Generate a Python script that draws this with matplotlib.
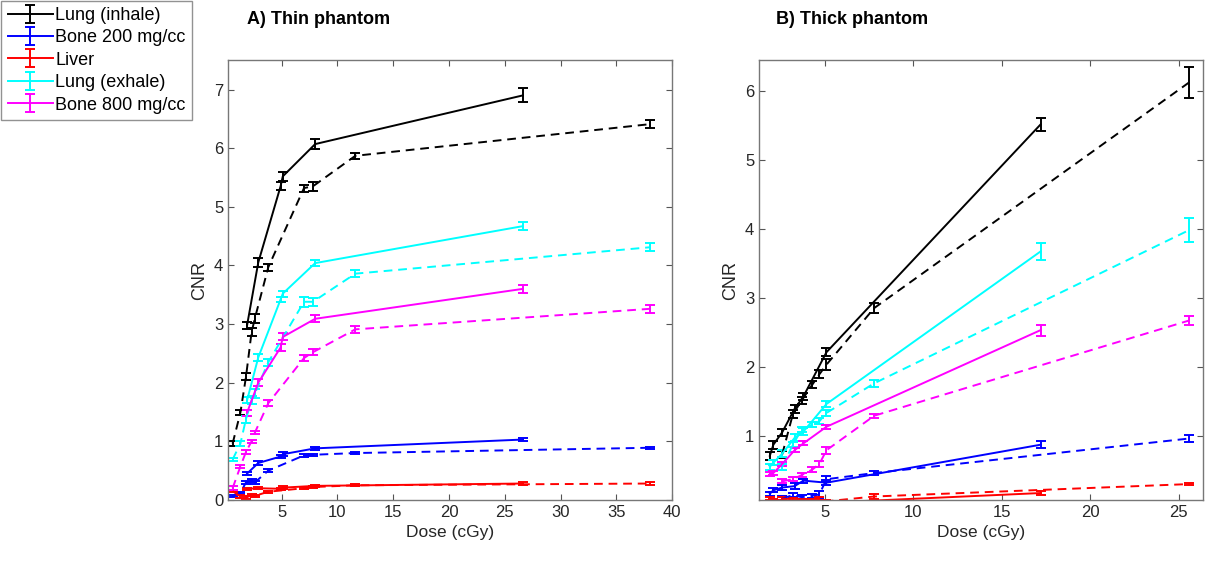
import numpy as np
import matplotlib.pyplot as plt

plt.rcParams['font.family'] = ['Liberation Sans', 'DejaVu Sans']

# ---- A) thin phantom ----
thin_dose_a = [1.9, 2.9, 4.9, 5.1, 8.0, 26.6]
thin_dose_b = [0.6, 1.3, 1.8, 2.3, 2.6, 3.8, 7.0, 7.8, 11.6, 38.0]

thin_lung_in_a = [2.98, 4.05, 5.35, 5.52, 6.07, 6.90]
thin_lung_in_a_err = [0.06, 0.07, 0.07, 0.08, 0.08, 0.12]
thin_lung_in_b = [0.96, 1.49, 2.10, 2.86, 3.10, 3.97, 5.32, 5.35, 5.87, 6.41]
thin_lung_in_b_err = [0.04, 0.04, 0.06, 0.07, 0.08, 0.06, 0.06, 0.08, 0.05, 0.07]

thin_bone200_a = [0.45, 0.63, 0.74, 0.78, 0.88, 1.03]
thin_bone200_a_err = [0.03, 0.03, 0.03, 0.03, 0.03, 0.02]
thin_bone200_b = [0.07, 0.12, 0.30, 0.33, 0.30, 0.50, 0.76, 0.77, 0.80, 0.89]
thin_bone200_b_err = [0.02, 0.02, 0.03, 0.03, 0.03, 0.02, 0.02, 0.02, 0.02, 0.02]

thin_liver_a = [0.19, 0.20, 0.19, 0.21, 0.24, 0.28]
thin_liver_a_err = [0.02, 0.02, 0.02, 0.02, 0.02, 0.02]
thin_liver_b = [0.15, 0.06, 0.04, 0.08, 0.07, 0.14, 0.20, 0.22, 0.25, 0.28]
thin_liver_b_err = [0.02, 0.02, 0.02, 0.02, 0.02, 0.02, 0.02, 0.02, 0.02, 0.02]

thin_lung_ex_a = [1.70, 2.43, 3.42, 3.52, 4.04, 4.67]
thin_lung_ex_a_err = [0.05, 0.06, 0.05, 0.05, 0.05, 0.07]
thin_lung_ex_b = [0.69, 0.96, 1.38, 1.70, 1.82, 2.35, 3.38, 3.38, 3.86, 4.31]
thin_lung_ex_b_err = [0.03, 0.04, 0.06, 0.07, 0.08, 0.06, 0.09, 0.07, 0.06, 0.07]

thin_bone800_a = [1.49, 2.00, 2.60, 2.78, 3.09, 3.60]
thin_bone800_a_err = [0.05, 0.06, 0.06, 0.06, 0.06, 0.07]
thin_bone800_b = [0.20, 0.57, 0.82, 1.00, 1.15, 1.65, 2.42, 2.52, 2.91, 3.26]
thin_bone800_b_err = [0.03, 0.03, 0.03, 0.03, 0.03, 0.05, 0.05, 0.05, 0.06, 0.07]

# ---- B) thick phantom ----
thick_dose_a = [1.9, 2.1, 2.6, 3.3, 3.8, 5.1, 17.2]
thick_dose_b = [2.6, 3.2, 3.7, 4.3, 4.7, 5.1, 7.8, 25.6]

thick_lung_in_a = [0.72, 0.88, 1.06, 1.40, 1.58, 2.22, 5.52]
thick_lung_in_a_err = [0.06, 0.06, 0.05, 0.06, 0.05, 0.06, 0.10]
thick_lung_in_b = [0.74, 1.32, 1.52, 1.75, 1.90, 2.04, 2.86, 6.13]
thick_lung_in_b_err = [0.05, 0.06, 0.05, 0.05, 0.06, 0.08, 0.07, 0.22]

thick_bone200_a = [0.17, 0.22, 0.26, 0.28, 0.36, 0.33, 0.88]
thick_bone200_a_err = [0.03, 0.03, 0.03, 0.04, 0.03, 0.04, 0.05]
thick_bone200_b = [0.10, 0.15, 0.12, 0.14, 0.16, 0.38, 0.47, 0.97]
thick_bone200_b_err = [0.03, 0.03, 0.03, 0.03, 0.05, 0.04, 0.03, 0.05]

thick_liver_a = [0.10, 0.08, 0.05, 0.06, 0.08, 0.04, 0.18]
thick_liver_a_err = [0.02, 0.02, 0.02, 0.02, 0.02, 0.02, 0.03]
thick_liver_b = [0.10, 0.09, 0.05, 0.08, 0.10, 0.06, 0.13, 0.31]
thick_liver_b_err = [0.02, 0.02, 0.02, 0.02, 0.02, 0.02, 0.03, 0.02]

thick_lung_ex_a = [0.56, 0.62, 0.75, 0.98, 1.07, 1.47, 3.68]
thick_lung_ex_a_err = [0.04, 0.04, 0.05, 0.05, 0.05, 0.04, 0.12]
thick_lung_ex_b = [0.56, 0.88, 1.10, 1.17, 1.22, 1.34, 1.77, 3.99]
thick_lung_ex_b_err = [0.04, 0.04, 0.04, 0.04, 0.04, 0.04, 0.05, 0.17]

thick_bone800_a = [0.45, 0.47, 0.60, 0.80, 0.90, 1.14, 2.54]
thick_bone800_a_err = [0.03, 0.03, 0.03, 0.03, 0.03, 0.03, 0.08]
thick_bone800_b = [0.35, 0.38, 0.44, 0.52, 0.60, 0.80, 1.30, 2.68]
thick_bone800_b_err = [0.03, 0.03, 0.03, 0.04, 0.04, 0.05, 0.03, 0.07]

names = ['Lung (inhale)', 'Bone 200 mg/cc', 'Liver', 'Lung (exhale)', 'Bone 800 mg/cc']
colors = ['k', '#0000ff', '#ff0000', '#00ffff', '#ff00ff']

thin_a = [(thin_lung_in_a, thin_lung_in_a_err), (thin_bone200_a, thin_bone200_a_err),
          (thin_liver_a, thin_liver_a_err), (thin_lung_ex_a, thin_lung_ex_a_err),
          (thin_bone800_a, thin_bone800_a_err)]
thin_b = [(thin_lung_in_b, thin_lung_in_b_err), (thin_bone200_b, thin_bone200_b_err),
          (thin_liver_b, thin_liver_b_err), (thin_lung_ex_b, thin_lung_ex_b_err),
          (thin_bone800_b, thin_bone800_b_err)]
thick_a = [(thick_lung_in_a, thick_lung_in_a_err), (thick_bone200_a, thick_bone200_a_err),
           (thick_liver_a, thick_liver_a_err), (thick_lung_ex_a, thick_lung_ex_a_err),
           (thick_bone800_a, thick_bone800_a_err)]
thick_b = [(thick_lung_in_b, thick_lung_in_b_err), (thick_bone200_b, thick_bone200_b_err),
           (thick_liver_b, thick_liver_b_err), (thick_lung_ex_b, thick_lung_ex_b_err),
           (thick_bone800_b, thick_bone800_b_err)]

fig = plt.figure(figsize=(12.07, 5.63), dpi=100)
ax1 = fig.add_axes([0.189, 0.112, 0.368, 0.781])
ax2 = fig.add_axes([0.629, 0.112, 0.368, 0.781])

lw = 1.4
handles = []
for ax, da, db, sa, sb in [(ax1, thin_dose_a, thin_dose_b, thin_a, thin_b),
                           (ax2, thick_dose_a, thick_dose_b, thick_a, thick_b)]:
    for i in range(5):
        h = ax.errorbar(da, sa[i][0], yerr=sa[i][1], color=colors[i], lw=lw,
                        elinewidth=lw, capsize=3.5, capthick=lw, label=names[i])
        eb = ax.errorbar(db, sb[i][0], yerr=sb[i][1], color=colors[i], lw=lw,
                         elinewidth=lw, capsize=3.5, capthick=lw)
        eb[0].set_dashes([4.5, 3])
        if ax is ax1:
            handles.append(h)

    ax.set_xlabel('Dose (cGy)', fontsize=12.5, color='#262626')
    ax.set_ylabel('CNR', fontsize=13, color='#262626')
    ax.tick_params(direction='in', top=True, right=True, length=4,
                   labelsize=12, color='#555555', labelcolor='#262626')
    for s in ax.spines.values():
        s.set_color('#777777')
        s.set_linewidth(1.0)

ax1.set_xlim(0.2, 40)
ax1.set_ylim(0, 7.5)
ax1.set_xticks([5, 10, 15, 20, 25, 30, 35, 40])
ax1.set_yticks([0, 1, 2, 3, 4, 5, 6, 7])

ax2.set_xlim(1.3, 26.4)
ax2.set_ylim(0.08, 6.45)
ax2.set_xticks([5, 10, 15, 20, 25])
ax2.set_yticks([1, 2, 3, 4, 5, 6])

fig.text(0.205, 0.965, 'A) Thin phantom', fontsize=13, fontweight='bold', va='center')
fig.text(0.643, 0.965, 'B) Thick phantom', fontsize=13, fontweight='bold', va='center')

leg = fig.legend(handles=handles, loc='upper left', bbox_to_anchor=(0.001, 0.999),
                 fontsize=13, frameon=True, fancybox=False, handlelength=2.5,
                 handletextpad=0.15, labelspacing=0.3, borderpad=0.35, borderaxespad=0)
leg.get_frame().set_edgecolor('#777777')
leg.get_frame().set_linewidth(1.0)

fig.savefig('out.png', dpi=100)
